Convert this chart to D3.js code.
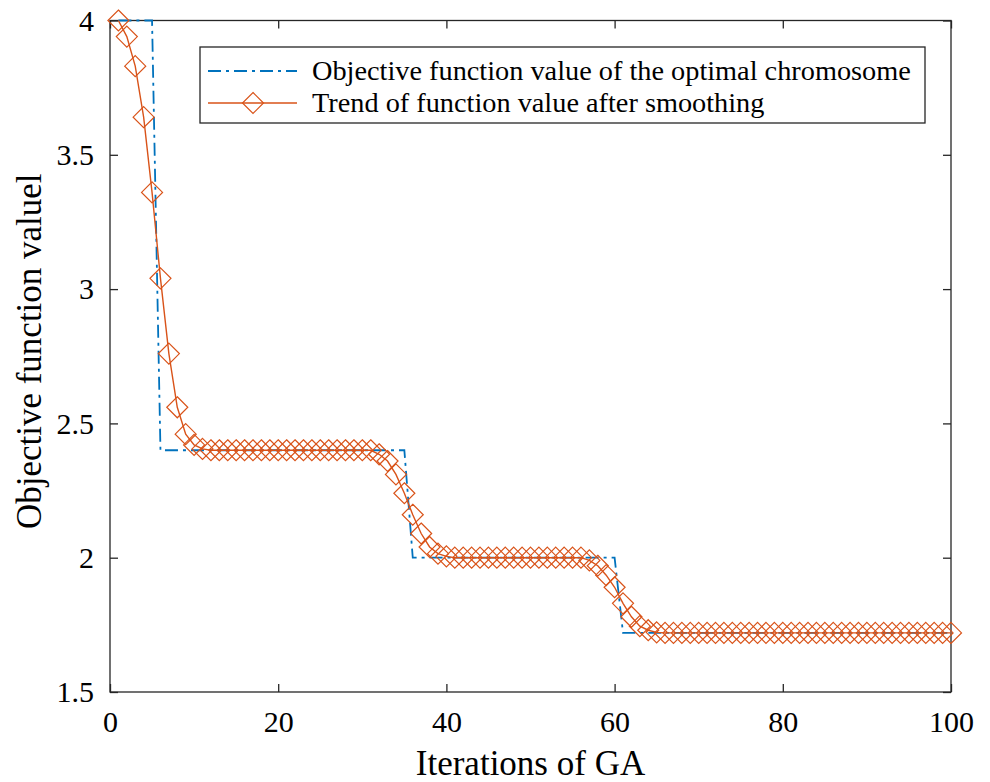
<!DOCTYPE html>
<html>
<head>
<meta charset="utf-8">
<script src="https://cdn.jsdelivr.net/npm/d3@7"></script>
<style>
  body { margin: 0; background: #fff; }
  svg, svg text { font-family: "Liberation Serif", "Times New Roman", serif; }
  svg { display: block; }
</style>
</head>
<body>
<div id="chart"></div>
<script>
// iterations 1..100
const iterations = d3.range(1, 101);

// best objective value per generation (step curve)
const bestValues = [
  4.0, 4.0, 4.0, 4.0, 4.0, 2.4, 2.4, 2.4, 2.4, 2.4,
  2.4, 2.4, 2.4, 2.4, 2.4, 2.4, 2.4, 2.4, 2.4, 2.4,
  2.4, 2.4, 2.4, 2.4, 2.4, 2.4, 2.4, 2.4, 2.4, 2.4,
  2.4, 2.4, 2.4, 2.4, 2.4, 2.0, 2.0, 2.0, 2.0, 2.0,
  2.0, 2.0, 2.0, 2.0, 2.0, 2.0, 2.0, 2.0, 2.0, 2.0,
  2.0, 2.0, 2.0, 2.0, 2.0, 2.0, 2.0, 2.0, 2.0, 2.0,
  1.72, 1.72, 1.72, 1.72, 1.72, 1.72, 1.72, 1.72, 1.72, 1.72,
  1.72, 1.72, 1.72, 1.72, 1.72, 1.72, 1.72, 1.72, 1.72, 1.72,
  1.72, 1.72, 1.72, 1.72, 1.72, 1.72, 1.72, 1.72, 1.72, 1.72,
  1.72, 1.72, 1.72, 1.72, 1.72, 1.72, 1.72, 1.72, 1.72, 1.72
];

// smoothed trend
const smoothValues = [
  4.0, 3.94, 3.83, 3.64, 3.36, 3.04, 2.76, 2.56, 2.46, 2.42,
  2.405, 2.4, 2.4, 2.4, 2.4, 2.4, 2.4, 2.4, 2.4, 2.4,
  2.4, 2.4, 2.4, 2.4, 2.4, 2.4, 2.4, 2.4, 2.4, 2.4,
  2.4, 2.385, 2.36, 2.31, 2.24, 2.16, 2.09, 2.04, 2.015, 2.005,
  2.0, 2.0, 2.0, 2.0, 2.0, 2.0, 2.0, 2.0, 2.0, 2.0,
  2.0, 2.0, 2.0, 2.0, 2.0, 2.0, 1.99, 1.97, 1.935, 1.89,
  1.83, 1.78, 1.745, 1.73, 1.722, 1.72, 1.72, 1.72, 1.72, 1.72,
  1.72, 1.72, 1.72, 1.72, 1.72, 1.72, 1.72, 1.72, 1.72, 1.72,
  1.72, 1.72, 1.72, 1.72, 1.72, 1.72, 1.72, 1.72, 1.72, 1.72,
  1.72, 1.72, 1.72, 1.72, 1.72, 1.72, 1.72, 1.72, 1.72, 1.72
];

const xTicks = [0, 20, 40, 60, 80, 100];
const yTicks = [1.5, 2, 2.5, 3, 3.5, 4];
const legendLabels = [
  "Objective function value of the optimal chromosome",
  "Trend of function value after smoothing"
];

const width = 990;
const height = 782;
const margin = { top: 20.5, right: 39, bottom: 90, left: 110 };
const blue = "#0072BD";
const orange = "#D95319";
const axisColor = "#262626";

const svg = d3
  .select("#chart")
  .append("svg")
  .attr("width", width)
  .attr("height", height);

const x = d3
  .scaleLinear()
  .domain([0, 100])
  .range([margin.left, width - margin.right]);
const y = d3
  .scaleLinear()
  .domain([1.5, 4])
  .range([height - margin.bottom, margin.top]);

// axes (box with inward ticks on all sides)
const tickLen = -8;
const fmt = d3.format("~g");
const styleAxis = g => {
  g.attr("font-family", null).attr("font-size", null);
  g.selectAll("line").attr("stroke", axisColor).attr("stroke-width", 1.3);
  g.selectAll("text")
    .attr("fill", "#000")
    .style("font-family", "'Liberation Serif', serif")
    .style("font-size", "30px");
  g.select(".domain").remove();
};

svg
  .append("g")
  .attr("transform", `translate(0,${y(1.5)})`)
  .call(d3.axisBottom(x).tickValues(xTicks).tickSize(tickLen).tickPadding(19).tickFormat(fmt))
  .call(styleAxis);

svg
  .append("g")
  .attr("transform", `translate(0,${y(4)})`)
  .call(d3.axisTop(x).tickValues(xTicks).tickSize(tickLen).tickFormat(""))
  .call(styleAxis);

svg
  .append("g")
  .attr("transform", `translate(${x(0)},0)`)
  .call(d3.axisLeft(y).tickValues(yTicks).tickSize(tickLen).tickPadding(16).tickFormat(fmt))
  .call(styleAxis);

svg
  .append("g")
  .attr("transform", `translate(${x(100)},0)`)
  .call(d3.axisRight(y).tickValues(yTicks).tickSize(tickLen).tickFormat(""))
  .call(styleAxis);

svg
  .append("rect")
  .attr("x", x(0))
  .attr("y", y(4))
  .attr("width", x(100) - x(0))
  .attr("height", y(1.5) - y(4))
  .attr("fill", "none")
  .attr("stroke", axisColor)
  .attr("stroke-width", 1.3);

// axis titles
svg
  .append("text")
  .attr("x", (x(0) + x(100)) / 2)
  .attr("y", 775)
  .attr("text-anchor", "middle")
  .style("font-size", "35px")
  .text("Iterations of GA");

svg
  .append("text")
  .attr("transform", `translate(41,${(y(1.5) + y(4)) / 2 - 5}) rotate(-90)`)
  .attr("text-anchor", "middle")
  .style("font-size", "35px")
  .text("Objective function valuel");

// series
const line = d3
  .line()
  .x((d, i) => x(iterations[i]))
  .y(d => y(d));

svg
  .append("path")
  .datum(bestValues)
  .attr("d", line)
  .attr("fill", "none")
  .attr("stroke", blue)
  .attr("stroke-width", 1.8)
  .attr("stroke-dasharray", "13,5,3,5");

svg
  .append("path")
  .datum(smoothValues)
  .attr("d", line)
  .attr("fill", "none")
  .attr("stroke", orange)
  .attr("stroke-width", 1.4);

const diamond = r => `M0,${-r}L${r},0L0,${r}L${-r},0Z`;

svg
  .append("g")
  .selectAll("path")
  .data(smoothValues)
  .join("path")
  .attr("transform", (d, i) => `translate(${x(iterations[i])},${y(d)})`)
  .attr("d", diamond(10.5))
  .attr("fill", "none")
  .attr("stroke", orange)
  .attr("stroke-width", 1.2);

// legend
const legend = svg.append("g");
legend
  .append("rect")
  .attr("x", 200)
  .attr("y", 47)
  .attr("width", 725)
  .attr("height", 76)
  .attr("fill", "#fff")
  .attr("stroke", axisColor)
  .attr("stroke-width", 1.3);

const rows = [71, 103];
legend
  .append("line")
  .attr("x1", 208)
  .attr("x2", 297)
  .attr("y1", rows[0])
  .attr("y2", rows[0])
  .attr("stroke", blue)
  .attr("stroke-width", 1.8)
  .attr("stroke-dasharray", "13,5,3,5");

legend
  .append("line")
  .attr("x1", 208)
  .attr("x2", 297)
  .attr("y1", rows[1])
  .attr("y2", rows[1])
  .attr("stroke", orange)
  .attr("stroke-width", 1.4);

legend
  .append("path")
  .attr("transform", `translate(253,${rows[1]})`)
  .attr("d", diamond(10.5))
  .attr("fill", "none")
  .attr("stroke", orange)
  .attr("stroke-width", 1.2);

legend
  .selectAll("text")
  .data(legendLabels)
  .join("text")
  .attr("x", 312)
  .attr("y", (d, i) => rows[i])
  .attr("dy", "0.33em")
  .style("font-size", "28.3px")
  .text(d => d);
</script>
</body>
</html>
